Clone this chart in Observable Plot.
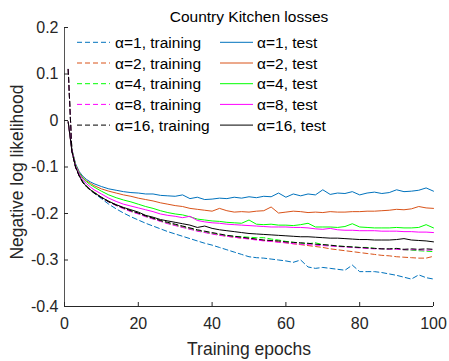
<!DOCTYPE html>
<html><head><meta charset="utf-8">
<script src="https://cdn.jsdelivr.net/npm/d3@7"></script>
<script src="https://cdn.jsdelivr.net/npm/@observablehq/plot@0.6"></script>
<style>
body{margin:0;background:#fff;}
#chart{position:relative;width:449px;height:361px;font-family:"Liberation Sans",Arial,Helvetica,sans-serif;}
#chart svg{position:absolute;left:0;top:0;}
</style></head><body><div id="chart"></div>
<script>
const titleText = "Country Kitchen losses";
const xLabel = "Training epochs";
const yLabel = "Negative log likelihood";
const xTicks = [0, 20, 40, 60, 80, 100];
const yTicks = [-0.4, -0.3, -0.2, -0.1, 0, 0.1, 0.2];
const xDomain = [0, 100];
const yDomain = [-0.4, 0.2];
const alphas = [1, 2, 4, 8, 16];
const colors = ["#0072BD", "#D95319", "#00FF00", "#FF00FF", "#000000"];

const epochs = [1,2,3,4,5,6,7,8,10,12,14,16,18,20,22,24,26,28,30,32,34,36,38,40,42,44,46,48,50,52,54,56,58,60,62,64,66,68,70,72,74,76,78,80,82,84,86,88,90,92,94,96,98,100];

// training (dashed)
const train1 = [0.110,-0.065,-0.099,-0.118,-0.131,-0.141,-0.149,-0.156,
  -0.168,-0.180,-0.190,-0.199,-0.207,-0.214,-0.221,-0.227,-0.233,-0.239,
  -0.244,-0.249,-0.254,-0.259,-0.264,-0.268,-0.273,-0.278,-0.283,-0.288,
  -0.293,-0.295,-0.296,-0.298,-0.300,-0.302,-0.305,-0.300,-0.315,-0.318,
  -0.316,-0.318,-0.320,-0.322,-0.311,-0.325,-0.325,-0.325,-0.327,-0.330,
  -0.333,-0.337,-0.341,-0.332,-0.338,-0.341];
const train2 = [0.110,-0.065,-0.099,-0.118,-0.132,-0.141,-0.148,-0.154,
  -0.165,-0.174,-0.182,-0.189,-0.195,-0.200,-0.206,-0.211,-0.216,-0.221,
  -0.225,-0.229,-0.233,-0.237,-0.240,-0.243,-0.246,-0.249,-0.251,-0.253,
  -0.254,-0.256,-0.258,-0.259,-0.261,-0.263,-0.265,-0.267,-0.269,-0.271,
  -0.273,-0.276,-0.278,-0.280,-0.282,-0.284,-0.286,-0.288,-0.290,-0.291,
  -0.293,-0.294,-0.295,-0.296,-0.296,-0.292];
const train4 = [0.110,-0.065,-0.099,-0.118,-0.132,-0.141,-0.148,-0.154,
  -0.165,-0.174,-0.182,-0.189,-0.195,-0.200,-0.206,-0.211,-0.216,-0.221,
  -0.225,-0.229,-0.233,-0.237,-0.240,-0.243,-0.246,-0.248,-0.249,-0.250,
  -0.251,-0.252,-0.252,-0.255,-0.257,-0.260,-0.262,-0.264,-0.265,-0.263,
  -0.267,-0.269,-0.270,-0.271,-0.272,-0.273,-0.273,-0.275,-0.276,-0.277,
  -0.276,-0.278,-0.279,-0.280,-0.281,-0.282];
const train8 = [0.110,-0.066,-0.100,-0.119,-0.133,-0.142,-0.149,-0.155,
  -0.166,-0.175,-0.183,-0.190,-0.196,-0.201,-0.207,-0.212,-0.217,-0.222,
  -0.226,-0.230,-0.234,-0.238,-0.241,-0.244,-0.247,-0.249,-0.251,-0.253,
  -0.255,-0.257,-0.259,-0.260,-0.262,-0.263,-0.265,-0.266,-0.267,-0.268,
  -0.269,-0.270,-0.271,-0.272,-0.273,-0.274,-0.275,-0.276,-0.276,-0.277,
  -0.277,-0.278,-0.278,-0.278,-0.279,-0.278];
const train16 = [0.110,-0.066,-0.101,-0.120,-0.134,-0.143,-0.150,-0.156,
  -0.166,-0.175,-0.182,-0.188,-0.194,-0.199,-0.205,-0.210,-0.215,-0.219,
  -0.223,-0.227,-0.231,-0.235,-0.238,-0.241,-0.244,-0.247,-0.249,-0.251,
  -0.253,-0.255,-0.257,-0.258,-0.259,-0.261,-0.262,-0.263,-0.264,-0.266,
  -0.267,-0.268,-0.270,-0.271,-0.272,-0.273,-0.274,-0.275,-0.276,-0.276,
  -0.275,-0.277,-0.276,-0.277,-0.276,-0.277];

// test (solid)
const test1 = [-0.003,-0.062,-0.093,-0.110,-0.120,-0.127,-0.132,-0.136,
  -0.142,-0.147,-0.150,-0.153,-0.155,-0.156,-0.158,-0.158,-0.161,-0.162,
  -0.163,-0.160,-0.168,-0.165,-0.170,-0.169,-0.167,-0.168,-0.165,-0.167,
  -0.164,-0.166,-0.163,-0.164,-0.156,-0.165,-0.158,-0.162,-0.158,-0.160,
  -0.149,-0.159,-0.156,-0.157,-0.153,-0.160,-0.156,-0.154,-0.157,-0.155,
  -0.149,-0.153,-0.152,-0.150,-0.145,-0.152];
const test2 = [-0.003,-0.063,-0.095,-0.112,-0.123,-0.130,-0.135,-0.140,
  -0.147,-0.152,-0.156,-0.160,-0.163,-0.167,-0.170,-0.173,-0.177,-0.180,
  -0.183,-0.185,-0.189,-0.191,-0.193,-0.195,-0.189,-0.194,-0.197,-0.196,
  -0.197,-0.195,-0.194,-0.186,-0.199,-0.197,-0.195,-0.196,-0.198,-0.197,
  -0.198,-0.196,-0.197,-0.197,-0.196,-0.196,-0.195,-0.195,-0.194,-0.193,
  -0.191,-0.192,-0.190,-0.185,-0.188,-0.189];
const test4 = [-0.003,-0.063,-0.095,-0.113,-0.124,-0.132,-0.138,-0.143,
  -0.152,-0.160,-0.166,-0.171,-0.175,-0.180,-0.185,-0.189,-0.194,-0.198,
  -0.201,-0.203,-0.207,-0.212,-0.214,-0.216,-0.217,-0.219,-0.220,-0.221,
  -0.214,-0.223,-0.224,-0.223,-0.225,-0.225,-0.226,-0.224,-0.221,-0.229,
  -0.229,-0.229,-0.230,-0.228,-0.222,-0.229,-0.230,-0.231,-0.231,-0.231,
  -0.230,-0.231,-0.231,-0.230,-0.224,-0.231];
const test8 = [-0.003,-0.064,-0.097,-0.115,-0.127,-0.136,-0.143,-0.149,
  -0.158,-0.167,-0.174,-0.180,-0.184,-0.188,-0.192,-0.196,-0.201,-0.204,
  -0.206,-0.209,-0.206,-0.215,-0.218,-0.220,-0.221,-0.223,-0.224,-0.225,
  -0.226,-0.227,-0.228,-0.229,-0.229,-0.229,-0.230,-0.230,-0.231,-0.233,
  -0.234,-0.232,-0.235,-0.236,-0.236,-0.237,-0.237,-0.237,-0.238,-0.238,
  -0.238,-0.239,-0.239,-0.240,-0.240,-0.241];
const test16 = [-0.003,-0.066,-0.100,-0.119,-0.133,-0.142,-0.149,-0.155,
  -0.165,-0.174,-0.181,-0.187,-0.192,-0.197,-0.204,-0.208,-0.213,-0.216,
  -0.219,-0.222,-0.225,-0.230,-0.227,-0.232,-0.235,-0.237,-0.239,-0.241,
  -0.243,-0.244,-0.245,-0.246,-0.247,-0.248,-0.249,-0.250,-0.250,-0.251,
  -0.252,-0.253,-0.253,-0.254,-0.255,-0.256,-0.256,-0.257,-0.257,-0.257,
  -0.256,-0.254,-0.257,-0.258,-0.259,-0.261];

const trainSeries = [train1, train2, train4, train8, train16];
const testSeries = [test1, test2, test4, test8, test16];

const W = 449, H = 361, mL = 64, mR = 16, mT = 27, mB = 55;
const innerW = W - mL - mR, innerH = H - mT - mB;
const ink = "#262626";
const dash = "5,3";

const marks = [];
alphas.forEach((a, i) => {
  const tr = epochs.map((e, j) => ({epoch: e, value: trainSeries[i][j]}));
  const te = epochs.map((e, j) => ({epoch: e, value: testSeries[i][j]}));
  marks.push(Plot.line(tr, {x: "epoch", y: "value", stroke: colors[i], strokeWidth: 1, strokeDasharray: dash}));
  marks.push(Plot.line(te, {x: "epoch", y: "value", stroke: colors[i], strokeWidth: 1}));
});

const chart = Plot.plot({
  width: W, height: H,
  marginLeft: mL, marginRight: mR, marginTop: mT, marginBottom: mB,
  style: {fontFamily: '"Liberation Sans", Arial, Helvetica, sans-serif', color: ink, background: "#fff"},
  x: {domain: xDomain},
  y: {domain: yDomain},
  marks: [
    ...marks,
    Plot.ruleY([yDomain[0]], {stroke: ink, strokeWidth: 1}),
    Plot.ruleX([xDomain[0]], {stroke: "#555", strokeWidth: 1}),
    Plot.tickX(xTicks, {x: d => d, insetTop: innerH - 4, stroke: ink}),
    Plot.tickY(yTicks, {y: d => d, insetRight: innerW - 4, stroke: ink}),
    Plot.axisX({ticks: xTicks, tickSize: 0, tickPadding: 11.5, fontSize: 16, label: null, tickFormat: d => String(d)}),
    Plot.axisY({ticks: yTicks, tickSize: 0, tickPadding: 6, fontSize: 16, label: null, tickFormat: d => String(d)}),
    Plot.text([titleText], {frameAnchor: "top", textAnchor: "middle", dy: -6, lineAnchor: "bottom", fontSize: 15.5, fill: "#000"}),
    Plot.text([xLabel], {frameAnchor: "bottom", textAnchor: "middle", dy: 48, lineAnchor: "bottom", fontSize: 17.5, fill: ink}),
    Plot.text([yLabel], {frameAnchor: "left", textAnchor: "middle", lineAnchor: "middle", rotate: -90, dx: -47.5, dy: 5, fontSize: 17.5, fill: ink})
  ]
});
const holder = document.getElementById("chart");
holder.appendChild(chart);

// legend overlay
const leg = d3.select(holder).append("svg")
  .attr("width", W).attr("height", H)
  .style("pointer-events", "none")
  .style("font-family", '"Liberation Sans", Arial, Helvetica, sans-serif');
const rowY0 = 42.3, rowStep = 20.7;
const cols = [
  {x1: 77, x2: 110, tx: 115, kind: "training", dash: dash},
  {x1: 220, x2: 253, tx: 257, kind: "test", dash: null}
];
alphas.forEach((a, i) => {
  const y = rowY0 + i * rowStep;
  cols.forEach(c => {
    leg.append("line").attr("x1", c.x1).attr("x2", c.x2).attr("y1", y).attr("y2", y)
      .attr("stroke", colors[i]).attr("stroke-width", 1)
      .attr("stroke-dasharray", c.dash);
    leg.append("text").attr("x", c.tx).attr("y", y).attr("dy", "0.36em")
      .attr("font-size", 15.5).attr("fill", "#000")
      .text(`α=${a}, ${c.kind}`);
  });
});
</script></body></html>
